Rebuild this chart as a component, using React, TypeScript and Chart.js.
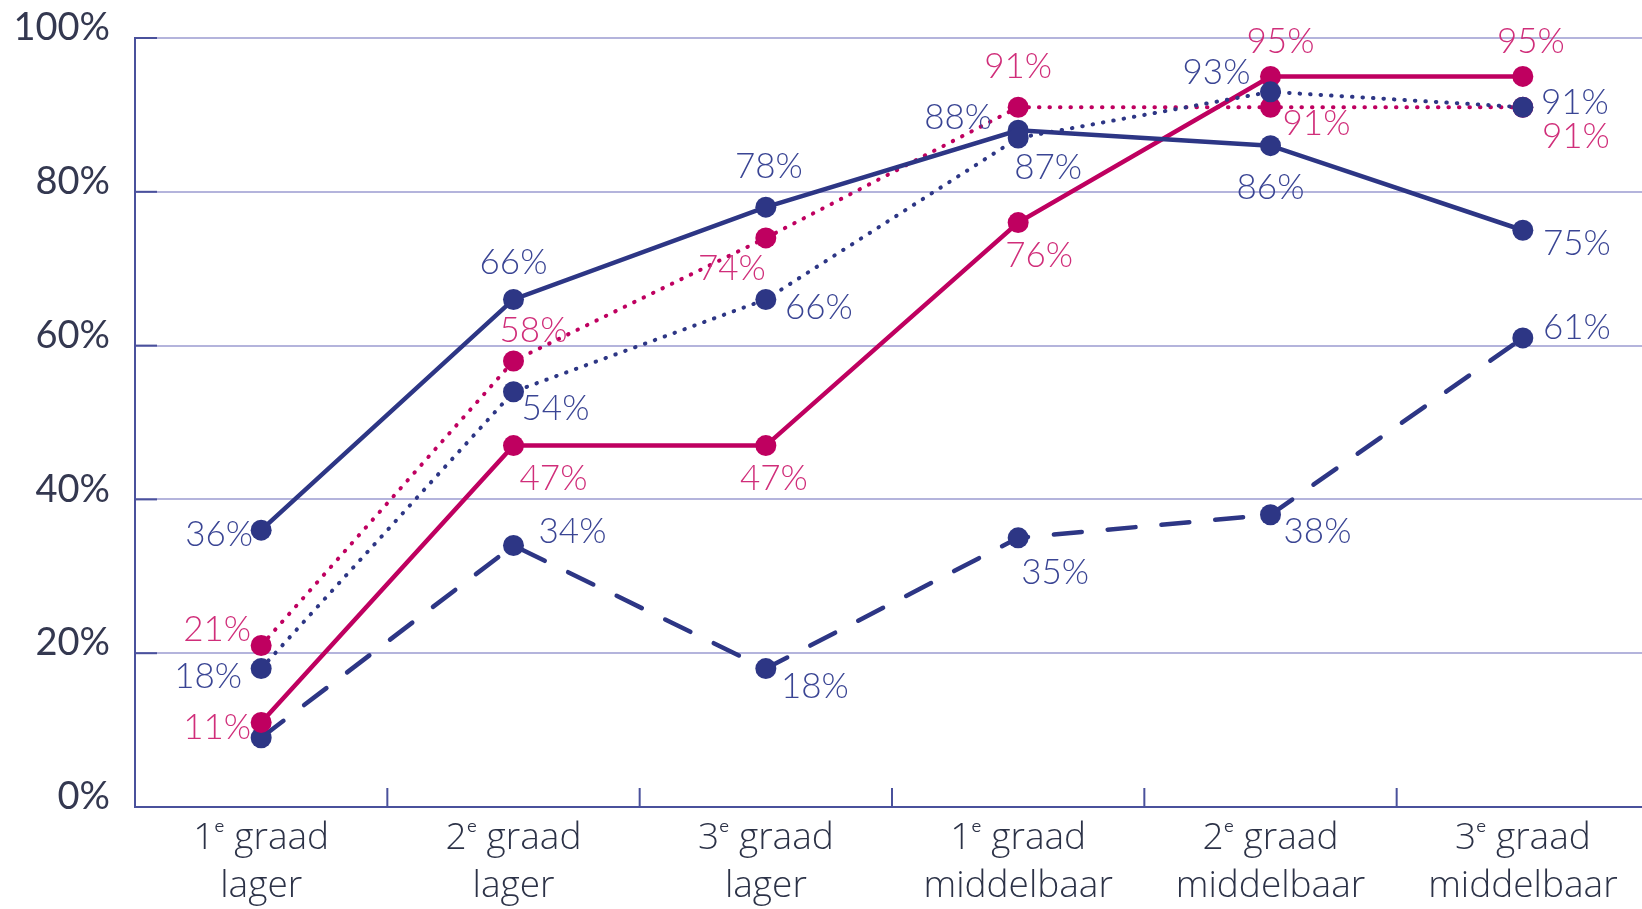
import React, { useEffect, useRef } from "react";
import { Chart, registerables } from "chart.js";

Chart.register(...registerables);

// ---- data ----
const categories: string[][] = [
  ["1ᵉ graad", "lager"],
  ["2ᵉ graad", "lager"],
  ["3ᵉ graad", "lager"],
  ["1ᵉ graad", "middelbaar"],
  ["2ᵉ graad", "middelbaar"],
  ["3ᵉ graad", "middelbaar"],
];
const navySolid = [36, 66, 78, 88, 86, 75];
const pinkSolid = [11, 47, 47, 76, 95, 95];
const pinkDotted = [21, 58, 74, 91, 91, 91];
const navyDotted = [18, 54, 66, 87, 93, 91];
const navyDashed = [9, 34, 18, 35, 38, 61];
const yTickValues = [0, 20, 40, 60, 80, 100];

// ---- label placement (layout, not data) ----
const offNavySolid = [[-42, 5], [0, -37], [3, -40], [-60, -13], [0, 42], [54, 13]];
const offPinkSolid = [[-44, 5], [40, 33], [8, 33], [21, 33], [10, -35], [8, -35]];
const offPinkDotted = [[-44, -16], [20, -30], [-34, 31], [0, -40], [46, 17], [53, 30]];
const offNavyDotted = [[-53, 8], [42, 17], [53, 8], [30, 30], [-54, -19], [52, -4]];
const offNavyDashed = [null, [59, -14], [49, 18], [37, 35], [47, 17], [54, -10]];

const NAVY = "#2d3685";
const PINK = "#bf0060";
const NAVY_TEXT = "#3a4594";
const PINK_TEXT = "#d02e7a";
const FONT = "Lato, 'Open Sans', sans-serif";
const XFONT = "'Open Sans', Lato, sans-serif";

const dataLabelPlugin = {
  id: "dataLabels",
  afterDatasetsDraw(chart: any) {
    const ctx = chart.ctx;
    ctx.save();
    ctx.font = `300 35px ${FONT}`;
    ctx.textAlign = "center";
    ctx.textBaseline = "middle";
    chart.data.datasets.forEach((ds: any, i: number) => {
      const meta = chart.getDatasetMeta(i);
      ctx.fillStyle = ds.labelColor;
      meta.data.forEach((pt: any, j: number) => {
        const off = ds.labelOffsets ? ds.labelOffsets[j] : null;
        if (!off) return;
        ctx.fillText(ds.data[j] + "%", pt.x + off[0], pt.y + off[1]);
      });
    });
    ctx.restore();
  },
};

const axisTicksPlugin = {
  id: "axisTicks",
  afterDraw(chart: any) {
    const ctx = chart.ctx;
    const { left, bottom } = chart.chartArea;
    const xs = chart.scales.x;
    const ys = chart.scales.y;
    ctx.save();
    ctx.strokeStyle = "#4a519c";
    ctx.lineWidth = 2;
    ys.ticks.forEach((t: any) => {
      const y = ys.getPixelForValue(t.value);
      ctx.beginPath();
      ctx.moveTo(left, y);
      ctx.lineTo(left + 22, y);
      ctx.stroke();
    });
    const step = xs.getPixelForValue(1) - xs.getPixelForValue(0);
    for (let i = 1; i <= categories.length; i++) {
      const x = xs.getPixelForValue(i - 1) + step / 2;
      ctx.beginPath();
      ctx.moveTo(x, bottom);
      ctx.lineTo(x, bottom - 19);
      ctx.stroke();
    }
    ctx.restore();
  },
};

function makeDataset(
  data: number[],
  color: string,
  labelColor: string,
  dash: number[],
  width: number,
  offsets: any[]
) {
  return {
    data,
    borderColor: color,
    backgroundColor: color,
    pointBackgroundColor: color,
    pointBorderWidth: 0,
    pointRadius: 10.5,
    pointHoverRadius: 10.5,
    borderWidth: width,
    borderDash: dash,
    borderCapStyle: dash.length ? "round" : "butt",
    tension: 0,
    fill: false,
    labelColor,
    labelOffsets: offsets,
  };
}

export default function App() {
  const ref = useRef<HTMLCanvasElement>(null);
  useEffect(() => {
    if (!ref.current) return;
    const chart = new Chart(ref.current, {
      type: "line",
      data: {
        labels: categories,
        datasets: [
          makeDataset(navyDotted, NAVY, NAVY_TEXT, [0.5, 10], 4, offNavyDotted),
          makeDataset(navySolid, NAVY, NAVY_TEXT, [], 4.5, offNavySolid),
          makeDataset(pinkSolid, PINK, PINK_TEXT, [], 4.5, offPinkSolid),
          makeDataset(pinkDotted, PINK, PINK_TEXT, [0.5, 10], 4, offPinkDotted),
          makeDataset(navyDashed, NAVY, NAVY_TEXT, [28, 26], 4.5, offNavyDashed),
        ] as any,
      },
      options: {
        responsive: false,
        animation: false,
        layout: { padding: { left: 0, top: 38, right: 11, bottom: 0 } },
        plugins: {
          legend: { display: false },
          tooltip: { enabled: false },
        },
        scales: {
          x: {
            offset: true,
            grid: { display: false, drawTicks: false },
            border: { display: true, color: "#4a519c", width: 2 },
            ticks: {
              padding: 8,
              color: "#2c3247",
              font: { family: XFONT, size: 37, weight: 300 as any, lineHeight: 1.28 },
              maxRotation: 0,
              autoSkip: false,
            },
            afterFit: (s: any) => {
              s.height = 102;
              s.paddingLeft = 0;
              s.paddingRight = 0;
            },
          },
          y: {
            min: 0,
            max: 100,
            afterBuildTicks: (s: any) => {
              s.ticks = yTickValues.map((v) => ({ value: v }));
            },
            grid: { color: "#b4b4dc", lineWidth: 2, drawTicks: false },
            border: { display: true, color: "#4a519c", width: 2 },
            ticks: {
              padding: 25,
              labelOffset: -10,
              color: "#343850",
              font: { family: FONT, size: 38, weight: 400 as any },
              callback: (v: any) => v + "%",
            },
            afterFit: (s: any) => {
              s.width = 135;
              s.paddingTop = 0;
              s.paddingBottom = 0;
            },
          },
        },
      },
      plugins: [dataLabelPlugin, axisTicksPlugin],
    });
    return () => chart.destroy();
  }, []);
  return (
    <div style={{ position: "fixed", left: 0, top: 0, width: 1660, height: 909, background: "#fff" }}>
      <canvas ref={ref} width={1660} height={909} />
    </div>
  );
}
